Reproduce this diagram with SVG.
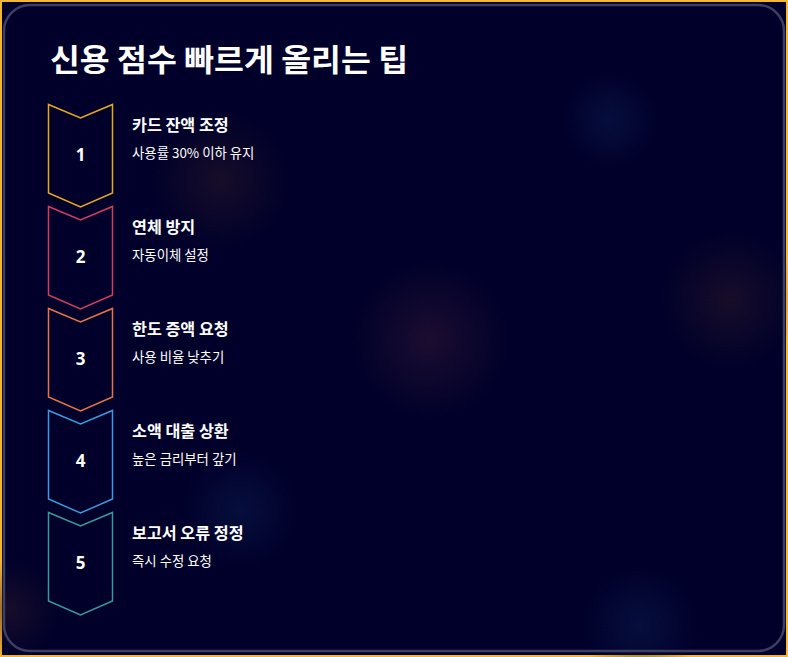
<svg xmlns="http://www.w3.org/2000/svg" width="788" height="657" viewBox="0 0 788 657">
<defs>
<radialGradient id="gp"><stop offset="0" stop-color="#2e1634" stop-opacity="0.6"/><stop offset="1" stop-color="#2e1634" stop-opacity="0"/></radialGradient>
<radialGradient id="gb"><stop offset="0" stop-color="#0c1a4a" stop-opacity="0.55"/><stop offset="1" stop-color="#0c1a4a" stop-opacity="0"/></radialGradient>
<radialGradient id="go"><stop offset="0" stop-color="#2e1a28" stop-opacity="0.5"/><stop offset="1" stop-color="#2e1a28" stop-opacity="0"/></radialGradient>
</defs>
<style>
.t{font-family:"Noto Sans CJK KR","Noto Sans",sans-serif;fill:#fff}
.h{font-size:16.2px;font-weight:bold}
.s{font-size:13.4px}
.n{font-family:"Noto Sans","Noto Sans CJK KR",sans-serif;font-size:17px;font-weight:bold;fill:#fff;text-anchor:middle}
.c{fill:#00002a;stroke-width:1.5}
</style>
<rect x="0" y="0" width="788" height="657" fill="#f5b731"/>
<rect x="2" y="2" width="784" height="653" fill="#00002a"/>
<circle cx="220" cy="180" r="70" fill="url(#go)"/>
<circle cx="430" cy="340" r="80" fill="url(#gp)"/>
<circle cx="610" cy="120" r="50" fill="url(#gb)"/>
<circle cx="730" cy="300" r="70" fill="url(#go)"/>
<circle cx="240" cy="510" r="60" fill="url(#gb)"/>
<circle cx="640" cy="625" r="60" fill="url(#gb)"/>
<circle cx="10" cy="610" r="50" fill="url(#go)"/>
<rect x="4" y="5" width="780" height="646" rx="26" fill="none" stroke="#3e3e60" stroke-width="2.5"/>
<text class="t" x="50" y="71" textLength="358" lengthAdjust="spacingAndGlyphs" style="font-size:31px;font-weight:bold">신용 점수 빠르게 올리는 팁</text>
<g id="connectors"></g>
<g id="step1"><path class="c" stroke="#e8a91c" d="M48.5,104.5 L80.5,118 L112.5,104.5 L112.5,193 L80.5,207 L48.5,193 Z"/><text class="n" x="80.5" y="161">1</text><text class="t h" x="132" y="131">카드 잔액 조정</text><text class="t s" x="132" y="158">사용률 30% 이하 유지</text></g>
<g id="step2"><path class="c" stroke="#d63c5e" d="M48.5,206.5 L80.5,220 L112.5,206.5 L112.5,295 L80.5,309 L48.5,295 Z"/><text class="n" x="80.5" y="263">2</text><text class="t h" x="132" y="233">연체 방지</text><text class="t s" x="132" y="260">자동이체 설정</text></g>
<g id="step3"><path class="c" stroke="#e8734a" d="M48.5,308.5 L80.5,322 L112.5,308.5 L112.5,397 L80.5,411 L48.5,397 Z"/><text class="n" x="80.5" y="365">3</text><text class="t h" x="132" y="335">한도 증액 요청</text><text class="t s" x="132" y="362">사용 비율 낮추기</text></g>
<g id="step4"><path class="c" stroke="#3a9be0" d="M48.5,410.5 L80.5,424 L112.5,410.5 L112.5,499 L80.5,513 L48.5,499 Z"/><text class="n" x="80.5" y="467">4</text><text class="t h" x="132" y="437">소액 대출 상환</text><text class="t s" x="132" y="464">높은 금리부터 갚기</text></g>
<g id="step5"><path class="c" stroke="#3a9a9a" d="M48.5,512.5 L80.5,526 L112.5,512.5 L112.5,601 L80.5,615 L48.5,601 Z"/><text class="n" x="80.5" y="569">5</text><text class="t h" x="132" y="539">보고서 오류 정정</text><text class="t s" x="132" y="566">즉시 수정 요청</text></g>
</svg>
